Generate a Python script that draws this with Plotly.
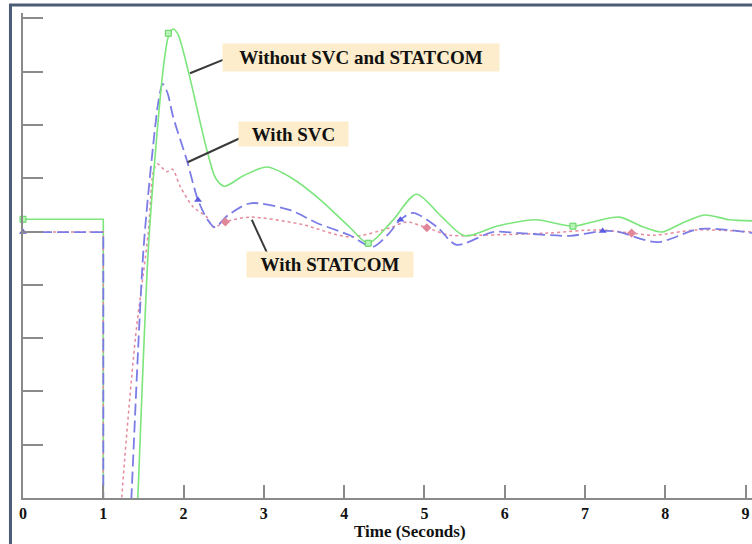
import plotly.graph_objects as go

# ---------------- data ----------------
x_ticks = [0, 1, 2, 3, 4, 5, 6, 7, 8, 9]
x_tick_labels = ["0", "1", "2", "3", "4", "5", "6", "7", "8", "9"]
y_ticks = [0, 1, 2, 3, 4, 5, 6, 7, 8, 9]

# pre-fault (flat then drop at fault)
pre_t = [0, 1, 1]
green_pre = [5.23, 5.23, -1.0]
blue_pre = [4.99, 4.99, -1.0]
pink_pre = [4.99, 4.99, -1.0]

# post-fault recovery
green_t = [1.40, 1.43, 1.56, 1.67, 1.75, 1.81, 1.87, 1.93, 2.06, 2.29, 2.40, 2.51, 2.75, 3.04,
           3.35, 3.70, 4.07, 4.30, 4.60, 4.90, 5.20, 5.50, 5.90, 6.38, 6.85, 7.10, 7.43, 7.70,
           7.96, 8.20, 8.49, 8.80, 9.10]
green_v = [-1.0, 0.0, 4.65, 6.85, 8.10, 8.65, 8.80, 8.70, 8.00, 6.53, 6.00, 5.85, 6.05, 6.21,
           6.00, 5.60, 5.08, 4.78, 5.20, 5.70, 5.30, 4.92, 5.10, 5.22, 5.10, 5.18, 5.27, 5.10,
           4.99, 5.15, 5.31, 5.22, 5.20]

blue_t = [1.32, 1.35, 1.50, 1.62, 1.69, 1.74, 1.80, 1.87, 2.04, 2.18, 2.30, 2.39, 2.55, 2.83,
          3.33, 3.66, 4.07, 4.35, 4.55, 4.70, 4.86, 5.16, 5.40, 5.85, 6.19, 6.81, 7.22, 7.40,
          7.90, 8.43, 9.10]
blue_v = [-1.0, 0.0, 4.65, 6.60, 7.47, 7.77, 7.60, 7.15, 6.34, 5.59, 5.22, 5.08, 5.30, 5.53,
          5.40, 5.16, 4.93, 4.71, 4.95, 5.22, 5.35, 5.08, 4.75, 4.99, 4.97, 4.92, 5.01, 5.00,
          4.80, 5.05, 4.97]

pink_t = [1.20, 1.23, 1.40, 1.56, 1.62, 1.67, 1.73, 1.79, 1.86, 1.96, 2.12, 2.29, 2.37, 2.52,
          2.83, 3.45, 4.07, 4.57, 4.78, 5.03, 5.32, 5.69, 6.53, 7.15, 7.58, 7.85, 8.39, 9.10]
pink_v = [-1.0, 0.0, 3.00, 4.97, 6.10, 6.27, 6.20, 6.12, 6.17, 5.84, 5.46, 5.27, 5.08, 5.18,
          5.27, 5.14, 4.90, 5.07, 5.18, 5.07, 4.93, 4.93, 4.97, 5.03, 4.97, 4.93, 5.03, 4.99]

# marker positions along each curve
green_mk_t = [0, 1.81, 4.30, 6.85]
green_mk_v = [5.23, 8.72, 4.78, 5.10]
blue_mk_t = [0, 2.18, 4.70, 7.22]
blue_mk_v = [4.99, 5.59, 5.22, 5.01]
pink_mk_t = [2.52, 5.03, 7.58]
pink_mk_v = [5.18, 5.07, 4.97]

labels = ["Without SVC and STATCOM", "With SVC", "With STATCOM"]

# ---------------- styles ----------------
GREEN = "#7ce57c"
BLUE = "#7c7ce6"
PINK = "#e68a9c"
SERIF = "Liberation Serif, Times New Roman, serif"

fig = go.Figure()

for t, v, col, dash, w in [
    (pre_t, green_pre, GREEN, "solid", 1.6),
    (pre_t, pink_pre, PINK, "dot", 1.5),
    (pre_t, blue_pre, BLUE, "12px,5px", 1.8),
]:
    fig.add_trace(go.Scatter(x=t, y=v, mode="lines",
                             line=dict(color=col, width=w, dash=dash),
                             showlegend=False, hoverinfo="skip"))

fig.add_trace(go.Scatter(x=pink_t, y=pink_v, mode="lines", name=labels[2],
                         line=dict(color=PINK, width=1.5, dash="dot", shape="spline", smoothing=0.8),
                         showlegend=False))
fig.add_trace(go.Scatter(x=blue_t, y=blue_v, mode="lines", name=labels[1],
                         line=dict(color=BLUE, width=1.8, dash="12px,5px", shape="spline", smoothing=0.8),
                         showlegend=False))
fig.add_trace(go.Scatter(x=green_t, y=green_v, mode="lines", name=labels[0],
                         line=dict(color=GREEN, width=1.6, shape="spline", smoothing=0.8),
                         showlegend=False))

fig.add_trace(go.Scatter(x=green_mk_t, y=green_mk_v, mode="markers", showlegend=False,
                         cliponaxis=False,
                         marker=dict(symbol="square", size=6, color="#b6f5b6",
                                     line=dict(color="#5fd35f", width=1))))
fig.add_trace(go.Scatter(x=blue_mk_t, y=blue_mk_v, mode="markers", showlegend=False,
                         cliponaxis=False,
                         marker=dict(symbol="triangle-up", size=7, color="#5c5ce0",
                                     line=dict(color="#5c5ce0", width=0))))
fig.add_trace(go.Scatter(x=pink_mk_t, y=pink_mk_v, mode="markers", showlegend=False,
                         cliponaxis=False,
                         marker=dict(symbol="diamond", size=7, color="#e0889a",
                                     line=dict(color="#d06a80", width=0))))

# annotation boxes
ann_specs = [
    (labels[0], 4.21, 8.27, 274, 25),
    (labels[1], 3.37, 6.83, 107, 22),
    (labels[2], 3.82, 4.38, 164, 23),
]
for txt, ax_, ay_, w, h in ann_specs:
    fig.add_annotation(x=ax_, y=ay_, xref="x", yref="y", text="<b>" + txt + "</b>",
                       showarrow=False, bgcolor="#fdedcc", width=w, height=h,
                       font=dict(family=SERIF, size=19, color="#111"))

# pointer lines
pointers = [
    (2.08, 7.97, 2.49, 8.22),
    (2.05, 6.30, 2.70, 6.75),
    (2.85, 5.22, 3.04, 4.60),
]
for x0, y0, x1, y1 in pointers:
    fig.add_shape(type="line", xref="x", yref="y", x0=x0, y0=y0, x1=x1, y1=y1,
                  line=dict(color="#3a3a3a", width=2))

# outer frame
fig.add_shape(type="rect", xref="paper", yref="paper", x0=-0.0172, y0=-0.2, x1=1.05, y1=1.0165,
              line=dict(color="#4b5d76", width=3), layer="above")

# x-axis title
fig.add_annotation(x=4.82, y=0, xref="x", yref="paper", yshift=-33, yanchor="middle",
                   text="<b>Time (Seconds)</b>",
                   showarrow=False, font=dict(family=SERIF, size=17, color="#111"))

fig.update_layout(
    width=752, height=544,
    margin=dict(l=23, r=0, t=13, b=46),
    paper_bgcolor="white", plot_bgcolor="white",
    showlegend=False,
    xaxis=dict(range=[0, 9.08], tickvals=x_ticks, ticktext=x_tick_labels, automargin=False,
               ticks="inside", ticklen=13, tickwidth=1.5, tickcolor="#8a8a8a",
               showline=True, linecolor="#8a8a8a", linewidth=2,
               showgrid=False, zeroline=False,
               tickfont=dict(family=SERIF, size=16, color="#111", weight="bold")),
    yaxis=dict(range=[0, 9.1], tickvals=y_ticks, showticklabels=False, automargin=False,
               ticks="inside", ticklen=20, tickwidth=1.5, tickcolor="#8a8a8a",
               showline=True, linecolor="#8a8a8a", linewidth=2,
               showgrid=False, zeroline=False),
)

fig.write_html("out.html", config={"displayModeBar": False},
               post_script="document.body.style.margin='0';document.body.style.overflow='hidden';")
